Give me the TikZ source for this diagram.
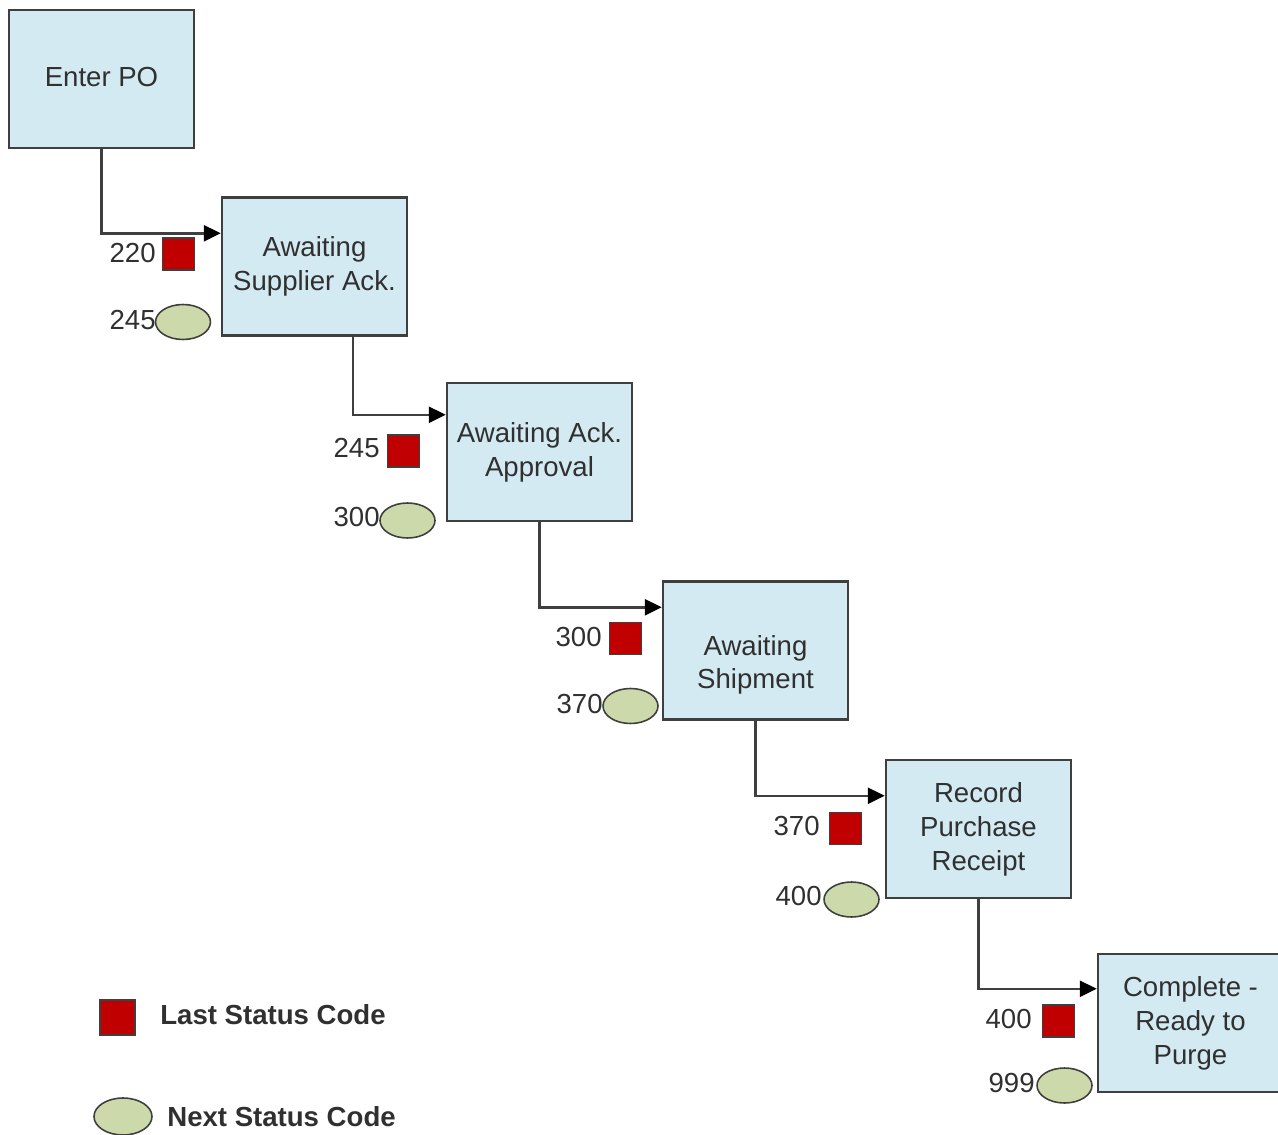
\documentclass[tikz,border=0pt]{standalone}
\usepackage{fontspec}
\setmainfont{Liberation Sans}
\usetikzlibrary{arrows.meta,shapes.geometric}
\definecolor{boxblue}{HTML}{D3EAF2}
\definecolor{lastred}{HTML}{C00000}
\definecolor{nextgreen}{HTML}{CCDAAB}
\definecolor{edgegray}{HTML}{3F3F3F}
\definecolor{txtgray}{HTML}{303030}
\tikzset{
  stat/.style={rectangle, draw=edgegray, line width=1.4pt, fill=boxblue,
    minimum width=3.7cm, minimum height=2.76cm, align=center, text=txtgray,
    font=\fontsize{15.7}{19.3}\selectfont},
  last/.style={rectangle, draw=edgegray, line width=0.9pt, fill=lastred,
    minimum size=0.64cm, inner sep=0pt},
  next/.style={ellipse, draw=edgegray, line width=0.9pt, fill=nextgreen,
    minimum width=1.1cm, minimum height=0.7cm, inner sep=0pt},
  code/.style={anchor=east, inner sep=0pt, text=txtgray,
    font=\fontsize{15.7}{19.3}\selectfont},
  key/.style={anchor=west, inner sep=0pt, text=txtgray,
    font=\fontsize{15.7}{19.3}\selectfont\bfseries},
  flow/.style={edgegray, line width=1.4pt,
    -{Triangle[length=0.34cm,width=0.32cm,color=black]}}
}
\begin{document}
\begin{tikzpicture}[x=0.02cm, y=-0.02cm]
    \useasboundingbox (0,0) rectangle (1278,1135);
        % status boxes
        \draw (101.5, 79) node[stat](s1){\raisebox{0.08cm}{Enter PO}}
       (314.5, 266.5) node[stat](s2){Awaiting\\Supplier Ack.}
       (539.5, 452) node[stat](s3){Awaiting Ack.\\Approval}
       (755.5, 650.5) node[stat](s4){\raisebox{-0.42cm}[0pt][0pt]{\begin{tabular}{@{}c@{}}Awaiting\\Shipment\end{tabular}}}
       (978.5, 829) node[stat](s5){Record\\Purchase\\Receipt}
       (1190.5, 1023) node[stat](s6){Complete -\\Ready to\\Purge};

        % status codes
        \draw (178.5, 254) node[last](q1){}
       (183, 322) node[next](e1){}
       (403.5, 451) node[last](q2){}
       (407.5, 520.5) node[next](e2){}
       (625.5, 638.5) node[last](q3){}
       (630.5, 706) node[next](e3){}
       (845.5, 828.5) node[last](q4){}
       (851.5, 899.5) node[next](e4){}
       (1058.5, 1021) node[last](q5){}
       (1064.5, 1085.5) node[next](e5){};

        \draw (156, 253) node[code](c1){220}
       (156, 320) node[code](c2){245}
       (380, 448) node[code](c3){245}
       (380, 517) node[code](c4){300}
       (602, 637) node[code](c5){300}
       (603, 704) node[code](c6){370}
       (820, 826) node[code](c7){370}
       (822, 896) node[code](c8){400}
       (1032, 1019) node[code](c9){400}
       (1035, 1083) node[code](c10){999};

       \draw[flow] (s1.south) |- ([yshift=-0.74cm]s2.north west);
       \draw[flow] ([xshift=0.77cm]s2.south) |- ([yshift=-0.66cm]s3.north west);
       \draw[flow] (s3.south) |- ([yshift=-0.54cm]s4.north west);
       \draw[flow] (s4.south) |- ([yshift=-0.74cm]s5.north west);
       \draw[flow] (s5.south) |- ([yshift=-0.72cm]s6.north west);

        % legend
        \draw (117.5, 1017.5) node[last, minimum size=0.7cm](lq){}
       (160, 1015) node[key](lt){Last Status Code}
       (123, 1116.5) node[next, minimum width=1.16cm, minimum height=0.74cm](le){}
       (167, 1117) node[key](nt){Next Status Code};
    \end{tikzpicture}
\end{document}
